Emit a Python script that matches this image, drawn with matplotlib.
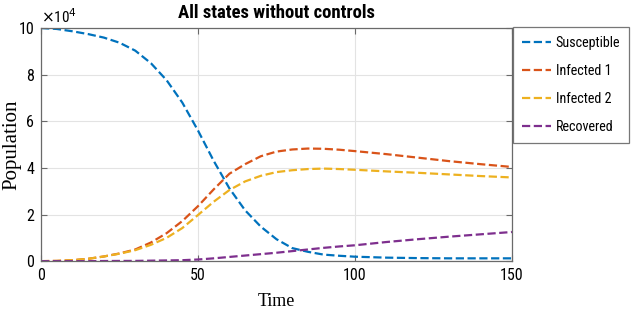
import matplotlib.pyplot as plt
import matplotlib.ticker as mticker

# values, population in units of 1e4
t = [0, 5, 10, 15, 20, 25, 30, 35, 40, 45, 50, 55, 60, 65, 70, 75, 80, 85, 90, 95,
     100, 110, 120, 130, 140, 150]
susceptible = [10.0, 9.96, 9.86, 9.74, 9.59, 9.37, 9.03, 8.49, 7.76, 6.8, 5.6, 4.3, 3.12, 2.18,
               1.48, 0.94, 0.56, 0.4, 0.28, 0.23, 0.19, 0.15, 0.13, 0.12, 0.12, 0.12]
infected1 = [0.0, 0.01, 0.04, 0.1, 0.2, 0.33, 0.5, 0.8, 1.2, 1.72, 2.36, 3.08, 3.75, 4.16,
             4.5, 4.7, 4.79, 4.83, 4.82, 4.78, 4.72, 4.59, 4.44, 4.29, 4.16, 4.04]
infected2 = [0.0, 0.01, 0.04, 0.1, 0.2, 0.32, 0.47, 0.7, 1.0, 1.42, 1.98, 2.55, 3.05, 3.42,
             3.66, 3.82, 3.9, 3.95, 3.97, 3.95, 3.92, 3.85, 3.79, 3.72, 3.65, 3.59]
recovered = [0.0, 0.0, 0.0, 0.0, 0.005, 0.008, 0.01, 0.02, 0.03, 0.04, 0.07, 0.12, 0.18, 0.24,
             0.3, 0.36, 0.43, 0.5, 0.57, 0.63, 0.68, 0.82, 0.94, 1.05, 1.15, 1.25]

names = ['Susceptible', 'Infected 1', 'Infected 2', 'Recovered']
colors = ['#0072BD', '#D95319', '#EDB120', '#7E2F8E']

sans = ['Roboto Condensed', 'Liberation Sans']
serif = ['Liberation Serif', 'DejaVu Serif']
plt.rcParams['font.family'] = sans

fig = plt.figure(figsize=(6.32, 3.15), dpi=100)
ax = fig.add_axes([0.065, 0.171, 0.745, 0.74])

for y, n, c in zip([susceptible, infected1, infected2, recovered], names, colors):
    ax.plot(t, [v * 1e4 for v in y], linestyle='--', color=c, linewidth=1.6, label=n)

ax.set_xlim(0, 150)
ax.set_ylim(0, 100000)
ax.set_xticks([0, 50, 100, 150])
ax.set_yticks([0, 20000, 40000, 60000, 80000, 100000])
ax.yaxis.set_major_formatter(mticker.FuncFormatter(lambda v, p: '%d' % round(v / 1e4)))
ax.grid(True, color='#e3e3e3', linewidth=0.8)
ax.set_axisbelow(True)
for s in ax.spines.values():
    s.set_color('#6a6a6a')
    s.set_linewidth(0.9)
ax.tick_params(direction='in', length=4, top=True, right=True, color='#6a6a6a',
               labelsize=11.5, labelcolor='black', pad=5)

ax.text(0.0, 1.008, r'$\times$10$^{4}$', transform=ax.transAxes, fontsize=11,
        ha='left', va='bottom')
ax.set_title('All states without controls', fontsize=13.5, fontweight='bold', pad=7)
ax.set_xlabel('Time', fontsize=13, family=serif)
ax.xaxis.set_label_coords(0.5, -0.135)
ax.set_ylabel('Population', fontsize=15, family=serif)
ax.yaxis.set_label_coords(-0.042, 0.5)

leg = fig.legend(loc='upper left', bbox_to_anchor=(0.812, 0.914), fontsize=10.2,
                 frameon=True, fancybox=False, handlelength=2.1, handletextpad=0.3,
                 borderpad=0.6, labelspacing=1.0, borderaxespad=0)
leg.get_frame().set_edgecolor('#555555')
leg.get_frame().set_linewidth(0.9)

fig.savefig('out.png', dpi=100)
